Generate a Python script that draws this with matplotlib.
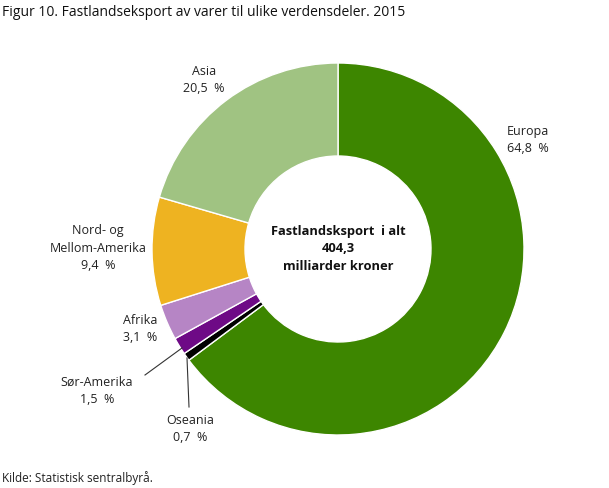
import matplotlib.pyplot as plt

plt.rcParams['font.family'] = ['Open Sans', 'DejaVu Sans']

# data, fra toppen og med klokka
kategorier = ['Europa', 'Oseania', 'Sør-Amerika', 'Afrika', 'Nord- og\nMellom-Amerika', 'Asia']
andeler = [64.8, 0.7, 1.5, 3.1, 9.4, 20.5]
farger = ['#3d8600', '#000000', '#6e0a86', '#b685c5', '#eeb321', '#a0c382']

# etikettplassering i piksler (x, y fra toppen), og justering
etikett_pos = [(507, 140, 'left'), (190, 429, 'center'), (97, 391, 'center'),
               (140, 329, 'center'), (98, 248, 'center'), (204, 80, 'center')]

W, H = 609, 488
fig = plt.figure(figsize=(W / 100, H / 100), dpi=100)
ax = fig.add_axes([0, 0, 1, 1])
ax.axis('off')

ax.pie(andeler, colors=farger, startangle=90, counterclock=False,
       center=(338, H - 249), radius=186,
       wedgeprops=dict(width=93, edgecolor='white', linewidth=1))
ax.set_xlim(0, W)
ax.set_ylim(0, H)
ax.set_aspect('equal')

for navn, verdi, (x, y, ha) in zip(kategorier, andeler, etikett_pos):
    tekst = f"{navn}\n{verdi:.1f}  %".replace('.', ',')
    ax.text(x, H - y, tekst, ha=ha, va='center', fontsize=9,
            color='#222222', linespacing=1.45, multialignment=ha)

# ledelinjer for små sektorer
ax.plot([145, 182], [H - 375, H - 348], color='#333333', lw=0.8)
ax.plot([189, 187], [H - 407, H - 358], color='#333333', lw=0.8)

ax.text(338, H - 249, "Fastlandsksport  i alt\n404,3\nmilliarder kroner",
        ha='center', va='center', fontsize=9.3, fontweight='bold',
        color='#111111', linespacing=1.45)

fig.text(2 / W, 1 - 12 / H, "Figur 10. Fastlandseksport av varer til ulike verdensdeler. 2015",
         ha='left', va='center', fontsize=10, color='#111111')
fig.text(2 / W, 1 - 478 / H, "Kilde: Statistisk sentralbyrå.",
         ha='left', va='center', fontsize=8.5, color='#222222')

fig.savefig('out.png', dpi=100)
plt.close()
